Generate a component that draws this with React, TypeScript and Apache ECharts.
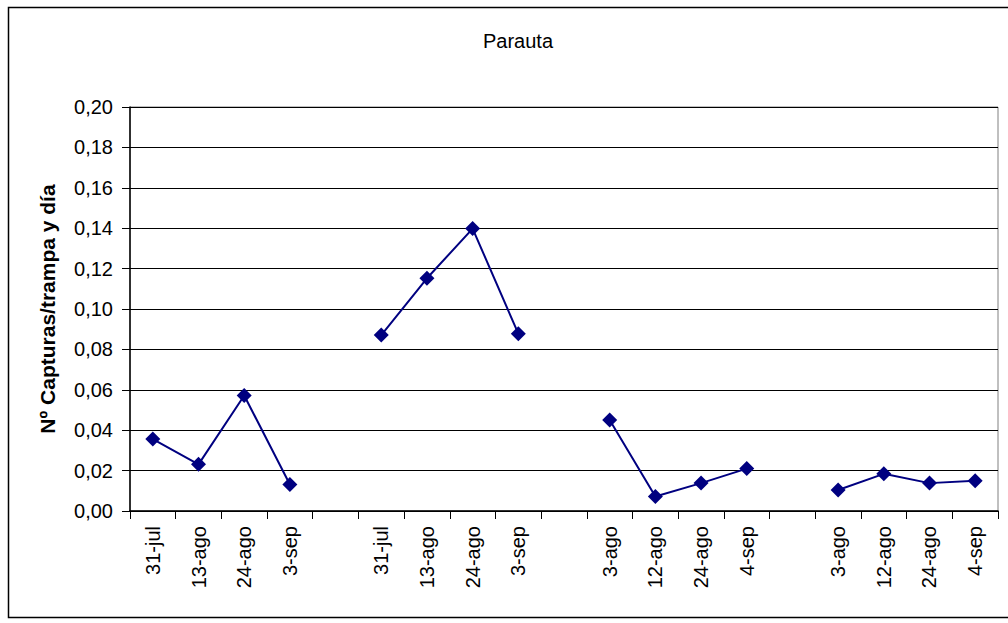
import React, { useEffect, useRef } from "react";
import * as echarts from "echarts";

const categories = [
  "31-jul", "13-ago", "24-ago", "3-sep", "",
  "31-jul", "13-ago", "24-ago", "3-sep", "",
  "3-ago", "12-ago", "24-ago", "4-sep", "",
  "3-ago", "12-ago", "24-ago", "4-sep",
];

const values: (number | null)[] = [
  0.0356, 0.0231, 0.0572, 0.0131, null,
  0.0871, 0.1152, 0.1398, 0.0878, null,
  0.045, 0.0072, 0.0138, 0.021, null,
  0.0104, 0.0184, 0.0138, 0.015,
];

const yTicks = { min: 0, max: 0.2, interval: 0.02 };

export default function App() {
  const ref = useRef<HTMLDivElement>(null);
  useEffect(() => {
    if (!ref.current) return;
    const chart = echarts.init(ref.current, null, { renderer: "svg" });
    const font = "'Liberation Sans', Arial, sans-serif";
    chart.setOption({
      animation: false,
      backgroundColor: "#ffffff",
      title: {
        text: "Parauta",
        left: 513,
        top: 26,
        textAlign: "center",
        textStyle: { fontFamily: font, fontSize: 20, fontWeight: "normal", color: "#000" },
      },
      graphic: [
        {
          type: "rect",
          shape: { x: 8.5, y: 7.5, width: 1010, height: 610 },
          style: { fill: "none", stroke: "#000", lineWidth: 1.5 },
          silent: true,
          z: 100,
        },
      ],
      grid: { left: 130, right: 10, top: 107, bottom: 112, show: true, borderColor: "#808080", borderWidth: 1 },
      xAxis: {
        type: "category",
        data: categories,
        boundaryGap: true,
        axisLine: { lineStyle: { color: "#000", width: 1.5 } },
        axisTick: { show: true, alignWithLabel: false, interval: 0, length: 8, lineStyle: { color: "#000" } },
        axisLabel: {
          interval: 0,
          rotate: 90,
          margin: 15,
          fontFamily: font,
          fontSize: 20,
          color: "#000",
        },
        splitLine: { show: false },
      },
      yAxis: {
        type: "value",
        min: yTicks.min,
        max: yTicks.max,
        interval: yTicks.interval,
        name: "Nº Capturas/trampa y día",
        nameLocation: "middle",
        nameGap: 72,
        nameTextStyle: { fontFamily: font, fontSize: 21, fontWeight: "bold", color: "#000" },
        axisLine: { show: true, lineStyle: { color: "#000", width: 1.5 } },
        axisTick: { show: true, length: 8, lineStyle: { color: "#000" } },
        axisLabel: {
          fontFamily: font,
          fontSize: 20,
          color: "#000",
          margin: 17,
          formatter: (v: number) => v.toFixed(2).replace(".", ","),
        },
        splitLine: { show: true, lineStyle: { color: "#000", width: 1 } },
      },
      series: [
        {
          type: "line",
          data: values,
          connectNulls: false,
          symbol: "diamond",
          symbolSize: 15,
          lineStyle: { color: "#000080", width: 2 },
          itemStyle: { color: "#000080" },
        },
      ],
    });
    return () => chart.dispose();
  }, []);
  return (
    <div
      ref={ref}
      style={{ position: "fixed", left: 0, top: 0, width: 1008, height: 623 }}
    />
  );
}
